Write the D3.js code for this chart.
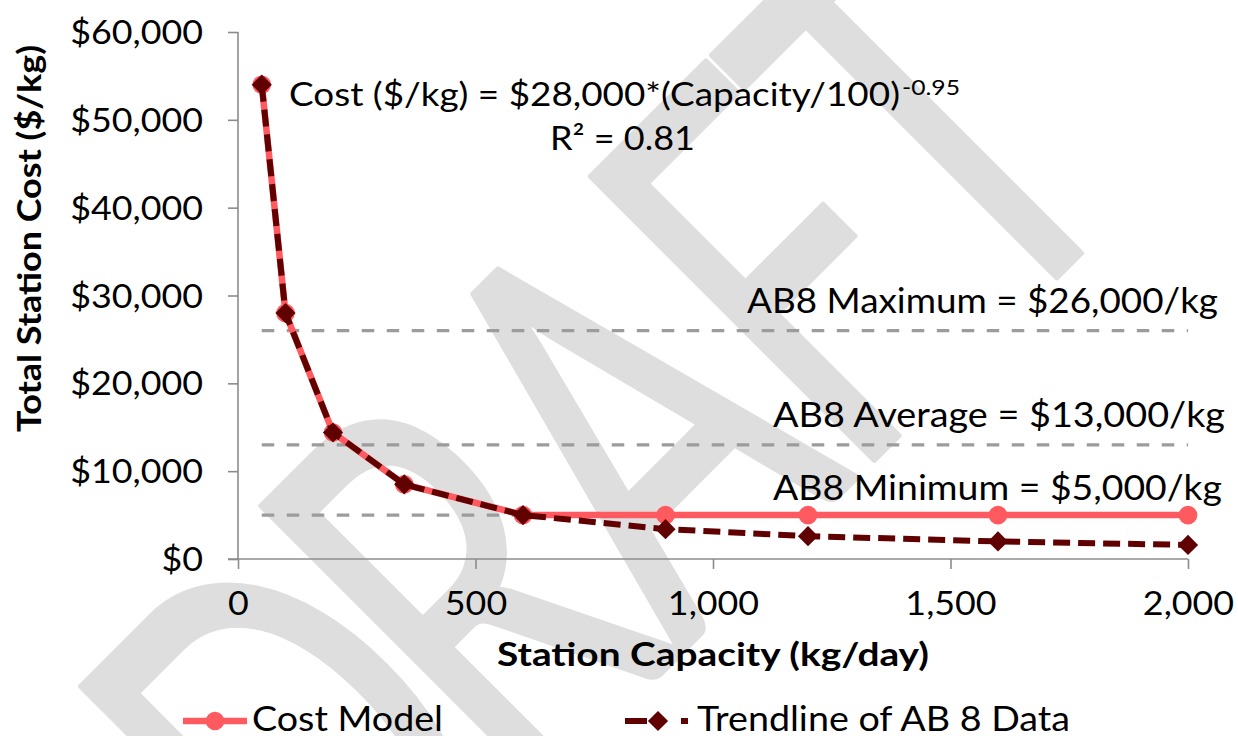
<!DOCTYPE html>
<html>
<head>
<meta charset="utf-8">
<script src="https://cdn.jsdelivr.net/npm/d3@7"></script>
<style>
  html, body { margin: 0; padding: 0; background: #ffffff; }
  svg { display: block; font-family: Lato, "Open Sans", sans-serif; }
</style>
</head>
<body>
<svg id="chart" width="1238" height="736"></svg>
<script>
// ---- data ----
const capacity = [50, 100, 200, 350, 600, 900, 1200, 1600, 2000];
const costModel = [54000, 28000, 14400, 8500, 5000, 5000, 5000, 5000, 5000];
const trendline = [54000, 28000, 14400, 8500, 5000, 3400, 2600, 2000, 1600];
const refValues = [26000, 13000, 5000];
const refLabels = ["AB8 Maximum = $26,000/kg", "AB8 Average = $13,000/kg", "AB8 Minimum = $5,000/kg"];
const xTicks = [0, 500, 1000, 1500, 2000];
const yTicks = [0, 10000, 20000, 30000, 40000, 50000, 60000];
const seriesNames = ["Cost Model", "Trendline of AB 8 Data"];
const xTitle = "Station Capacity (kg/day)";
const yTitle = "Total Station Cost ($/kg)";
const eqMain = "Cost ($/kg) = $28,000*(Capacity/100)";
const eqExp = "-0.95";
const eqR2 = "R² = 0.81";
const watermark = "DRAFT";

// ---- setup ----
const svg = d3.select("#chart");
const x = d3.scaleLinear().domain([0, 2000]).range([238, 1188]);
const y = d3.scaleLinear().domain([0, 60000]).range([559, 32]);
const RED = "#FF5A5F", DARK = "#600000", AXIS = "#8c8c8c", REF = "#9c9c9c";

function stretch(sel, f) {
  sel.each(function () {
    const w = this.getComputedTextLength();
    this.setAttribute("textLength", w * f);
    this.setAttribute("lengthAdjust", "spacingAndGlyphs");
  });
}
function fit(sel, w) {
  sel.attr("textLength", w).attr("lengthAdjust", "spacingAndGlyphs");
}

// ---- watermark ----
const wm = svg.append("g")
  .attr("transform", "translate(667,667) rotate(-45) scale(0.667,1)")
  .attr("fill", "#dedede").attr("stroke", "#dedede")
  .attr("stroke-width", 6).attr("stroke-linejoin", "round");
const wmPos = [-463, -208, 18, 258, 458];
watermark.split("").forEach((ch, i) => {
  wm.append("text").attr("x", wmPos[i] / 0.667).attr("y", 0)
    .attr("font-family", "Lato").attr("font-size", 559).text(ch);
});

// ---- reference lines ----
refValues.forEach((v) => {
  svg.append("line")
    .attr("x1", x(capacity[0])).attr("x2", x(capacity[capacity.length - 1]))
    .attr("y1", y(v)).attr("y2", y(v))
    .attr("stroke", REF).attr("stroke-width", 3.2).attr("stroke-dasharray", "12.5,12.5");
});
const refLabelLeft = [747, 773, 773];
const refLabelWidth = [471, 452, 449];
const refLabelBase = [313, 427, 500];
refLabels.forEach((t, i) => {
  svg.append("text").attr("x", refLabelLeft[i]).attr("y", refLabelBase[i])
    .attr("font-size", 34).attr("fill", "#000").text(t)
    .call(fit, refLabelWidth[i]);
});

// ---- axes ----
const yAxis = d3.axisLeft(y).tickValues(yTicks).tickSize(10).tickPadding(25)
  .tickFormat(d => "$" + d3.format(",")(d));
const gy = svg.append("g").attr("transform", `translate(${x(0)},0)`).call(yAxis);
gy.select(".domain").attr("stroke", AXIS).attr("stroke-width", 1.6)
  .attr("d", `M0,${y(60000)}V${y(0)}`);
gy.selectAll(".tick line").attr("stroke", AXIS).attr("stroke-width", 1.6);
gy.selectAll(".tick text").attr("font-size", 32).attr("fill", "#000")
  .attr("font-family", "Lato").attr("dy", "0.36em").call(stretch, 1.12);

const xAxis = d3.axisBottom(x).tickValues(xTicks).tickSize(10).tickPadding(14)
  .tickFormat(d3.format(","));
const gx = svg.append("g").attr("transform", `translate(0,${y(0)})`).call(xAxis);
gx.select(".domain").attr("stroke", AXIS).attr("stroke-width", 1.6)
  .attr("d", `M${x(0) - 10},0H${x(2000)}`);
gx.selectAll(".tick line").attr("stroke", AXIS).attr("stroke-width", 1.6);
gx.selectAll(".tick text").attr("font-size", 32).attr("fill", "#000")
  .attr("font-family", "Lato").attr("y", 56).attr("dy", 0).call(stretch, 1.12);

// axis titles
svg.append("text").attr("x", 497).attr("y", 666)
  .attr("font-size", 33).attr("font-weight", "bold").text(xTitle).call(fit, 432);
svg.append("text").attr("transform", "translate(41,432) rotate(-90)")
  .attr("font-size", 33).attr("font-weight", "bold")
  .text(yTitle).call(fit, 387);

// ---- series ----
const pts1 = capacity.map((c, i) => [c, costModel[i]]);
const pts2 = capacity.map((c, i) => [c, trendline[i]]);
const line = d3.line().x(d => x(d[0])).y(d => y(d[1]));

svg.append("path").attr("d", line(pts1)).attr("fill", "none")
  .attr("stroke", RED).attr("stroke-width", 6.5).attr("stroke-linejoin", "round");
svg.selectAll("circle.cm").data(pts1).enter().append("circle")
  .attr("cx", d => x(d[0])).attr("cy", d => y(d[1])).attr("r", 9.3).attr("fill", RED);

svg.append("path").attr("d", line(pts2)).attr("fill", "none")
  .attr("stroke", DARK).attr("stroke-width", 6).attr("stroke-dasharray", "17,8");
const diamond = d3.symbol().type(d3.symbolDiamond2).size(260);
svg.selectAll("path.tr").data(pts2).enter().append("path")
  .attr("d", diamond).attr("transform", d => `translate(${x(d[0])},${y(d[1])})`)
  .attr("fill", DARK);

// ---- equation annotation ----
svg.append("text").attr("x", 289).attr("y", 106).attr("font-size", 33)
  .text(eqMain).call(fit, 611);
svg.append("text").attr("x", 902).attr("y", 95).attr("font-size", 21)
  .text(eqExp).call(fit, 58);
svg.append("text").attr("x", 550).attr("y", 150).attr("font-size", 33)
  .text(eqR2).call(fit, 145);

// ---- legend ----
const leg1 = svg.append("g");
leg1.append("line").attr("x1", 183).attr("x2", 247).attr("y1", 721).attr("y2", 721)
  .attr("stroke", RED).attr("stroke-width", 6.5);
leg1.append("circle").attr("cx", 215).attr("cy", 721).attr("r", 9.3).attr("fill", RED);
leg1.append("text").attr("x", 252).attr("y", 731).attr("font-size", 34)
  .text(seriesNames[0]).call(fit, 191);

const leg2 = svg.append("g");
leg2.append("line").attr("x1", 625).attr("x2", 688).attr("y1", 721).attr("y2", 721)
  .attr("stroke", DARK).attr("stroke-width", 6).attr("stroke-dasharray", "22,34,7,100");
leg2.append("path").attr("d", diamond).attr("transform", "translate(658,721)").attr("fill", DARK);
leg2.append("text").attr("x", 697).attr("y", 731).attr("font-size", 34)
  .text(seriesNames[1]).call(fit, 373);
</script>
</body>
</html>
